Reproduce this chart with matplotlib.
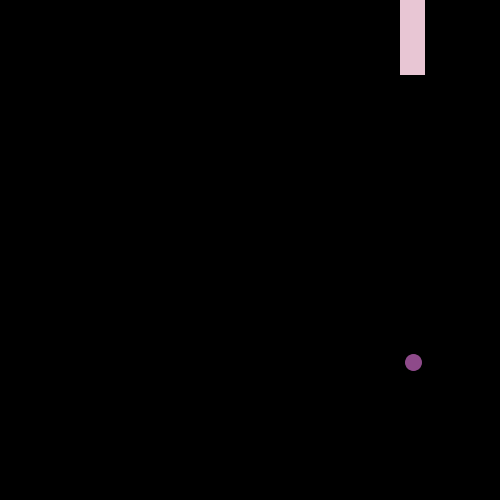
import matplotlib
matplotlib.use("Agg")
import matplotlib.pyplot as plt

bar_x = [16.5]
bar_bottom = [8.5]
bar_height = [3.0]
point_x = [16.5]
point_y = [2.76]

fig = plt.figure(figsize=(5, 5), dpi=100, facecolor="black")
ax = fig.add_axes([0, 0, 1, 1])
ax.set_facecolor("black")
ax.bar(bar_x, bar_height, bottom=bar_bottom, width=1.0, color="#e8c6d4", linewidth=0)
ax.scatter(point_x, point_y, s=150, color="#8e4a8a", linewidths=0, zorder=3)
ax.set_xlim(0, 20)
ax.set_ylim(0, 10)
ax.axis("off")
fig.savefig("out.png", dpi=100, facecolor="black")
